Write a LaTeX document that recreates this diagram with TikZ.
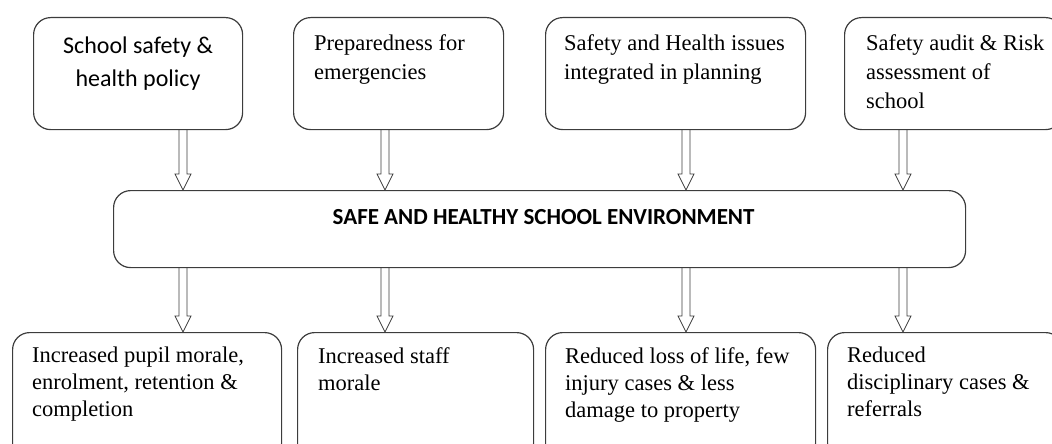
\documentclass[tikz,border=0pt]{standalone}
\usepackage{fontspec}
\setmainfont{Liberation Serif}
\newfontfamily\calibrifont{Carlito}
\usetikzlibrary{positioning, calc}
\definecolor{boxGrey}{RGB}{60, 60, 60}

\begin{document}
\begin{tikzpicture} [
        x=1pt, y=-1pt,
        box/.style={draw=boxGrey, line width=1.2pt, rounded corners=17pt, anchor=north west, inner sep=0pt},
        txt/.style={inner sep=0pt, align=left, font=\fontsize{22.5}{29}\selectfont},
        lowtxt/.style={txt, font=\fontsize{22.5}{27}\selectfont},
        ctxt/.style={inner sep=0pt, align=center, font=\calibrifont\fontsize{24}{33}\selectfont},
        head/.style={inner sep=0pt, font=\calibrifont\bfseries\fontsize{23}{26}\selectfont},
        hollow/.style={draw=boxGrey, line width=0.8pt, line join=miter, to path={
            let \p1=(\tikztostart), \p2=(\tikztotarget) in
            (\x1-4pt,\y1) -- (\x1-4pt,\y2+16pt) -- (\x1-8pt,\y2+16pt) -- (\x1,\y2)
            -- (\x1+8pt,\y2+16pt) -- (\x1+4pt,\y2+16pt) -- (\x1+4pt,\y1)}}
    ]
        \useasboundingbox (0,0) rectangle (1052,444);
        \clip (0,0) rectangle (1052,444);

        % TOP: what goes in
        \node[box, minimum width=209pt, minimum height=112pt] (policy) at (33, 17) {};
        \node[ctxt, below=20pt of policy.north] (policytxt) {School safety \&\\health policy};

        \node[box, minimum width=210pt, minimum height=112pt] (prep) at (293, 17) {};
        \node[txt, below right=17pt and 21pt of prep.north west] (preptxt) {Preparedness for\\emergencies};

        \node[box, minimum width=260pt, minimum height=112pt] (plan) at (545, 17) {};
        \node[txt, below right=17pt and 19pt of plan.north west] (plantxt) {Safety and Health issues\\integrated in planning};

        \node[box, minimum width=218pt, minimum height=112pt] (audit) at (844, 17) {};
        \node[txt, below right=17pt and 22pt of audit.north west] (audittxt) {Safety audit \& Risk\\assessment of\\school};

        % MIDDLE
        \node[box, minimum width=852pt, minimum height=77pt] (env) at (113, 190) {};
        \node[head, below=19pt of env.north, xshift=4pt] (envtxt) {SAFE AND HEALTHY SCHOOL ENVIRONMENT};

        % BOTTOM: what comes out
        \node[box, minimum width=269pt, minimum height=128pt] (pupil) at (12, 332) {};
        \node[lowtxt, below right=15pt and 20pt of pupil.north west] (pupiltxt) {Increased pupil morale,\\enrolment, retention \&\\completion};

        \node[box, minimum width=236pt, minimum height=128pt] (staff) at (297, 332) {};
        \node[lowtxt, below right=15pt and 21pt of staff.north west] (stafftxt) {Increased staff\\morale};

        \node[box, minimum width=270pt, minimum height=128pt] (loss) at (545, 332) {};
        \node[lowtxt, below right=15pt and 20pt of loss.north west] (losstxt) {Reduced loss of life, few\\injury cases \& less\\damage to property};

        \node[box, minimum width=235pt, minimum height=128pt] (disc) at (827, 332) {};
        \node[lowtxt, below right=15pt and 20pt of disc.north west] (disctxt) {Reduced\\disciplinary cases \&\\referrals};

        % ARROWS
        \foreach \t/\b/\c in {policy/pupil/183, prep/staff/385, plan/loss/686, audit/disc/903} {
            \coordinate (col) at (\c, 0);
            \draw[hollow] (\t.south -| col) to (env.north -| col);
            \draw[hollow] (env.south -| col) to (\b.north -| col);
        }
    \end{tikzpicture}
\end{document}
